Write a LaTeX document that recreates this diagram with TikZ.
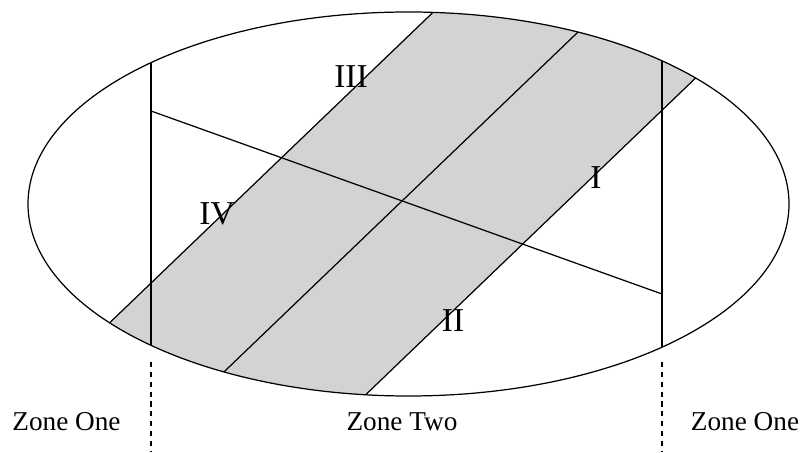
\documentclass[tikz,border=0pt]{standalone}
\usepackage{fontspec}
\setmainfont{Liberation Serif}
\usetikzlibrary{calc}
\definecolor{banda}{RGB}{210,211,213}

\begin{document}
\begin{tikzpicture}[line width=0.7pt,
      zona/.style={font=\fontsize{15.5}{18}\selectfont, inner sep=0pt},
      num/.style={font=\fontsize{19}{22}\selectfont, inner sep=0pt},
      corte/.style={dash pattern=on 3pt off 2.6pt}]
    \useasboundingbox (0,0) rectangle (16.06,9.04);
    \coordinate (c) at (8.17,4.96);
    \coordinate (m) at (8.04,5.02);
    \coordinate (m1) at ($(m)+(-5,-4.8)$);
    \coordinate (m2) at ($(m)+(5,4.8)$);
    \coordinate (l1) at ($(m1)+(-3.31,0)$);
    \coordinate (l2) at ($(m2)+(-3.31,0)$);
    \coordinate (r1) at ($(m1)+(3.31,0)$);
    \coordinate (r2) at ($(m2)+(3.31,0)$);
    \coordinate (va) at (3.02,0);
    \coordinate (vb) at (3.02,9.04);
    \coordinate (wa) at (13.24,0);
    \coordinate (wb) at (13.24,9.04);
    \coordinate (p) at (3.02,6.82);
    \coordinate (q) at (13.24,3.16);
    \begin{scope}
      \clip (c) ellipse [x radius=7.61, y radius=3.84];
      \fill[banda] (l1) -- (l2) -- (r2) -- (r1) -- cycle;
      \draw (l1) -- (l2);
      \draw (m1) -- (m2);
      \draw (r1) -- (r2);
      \draw (va) -- (vb);
      \draw (wa) -- (wb);
    \end{scope}
    \draw (c) ellipse [x radius=7.61, y radius=3.84];
    \draw (p) -- (q);
    \coordinate (da) at (3.02,1.80);
    \coordinate (db) at (13.24,1.80);
    \draw[corte] (da) -- (va);
    \draw[corte] (db) -- (wa);
    \node[zona] (z1) at (1.33,0.60) {Zone One};
    \node[zona] (z2) at (8.04,0.60) {Zone Two};
    \node[zona] (z3) at (14.90,0.60) {Zone One};
    \node[num] (n3) at (7.02,7.50) {III};
    \node[num] (n4) at (4.34,4.76) {IV};
    \node[num] (n2) at (9.06,2.62) {II};
    \node[num] (n1) at (11.92,5.48) {I};
\end{tikzpicture}
\end{document}
